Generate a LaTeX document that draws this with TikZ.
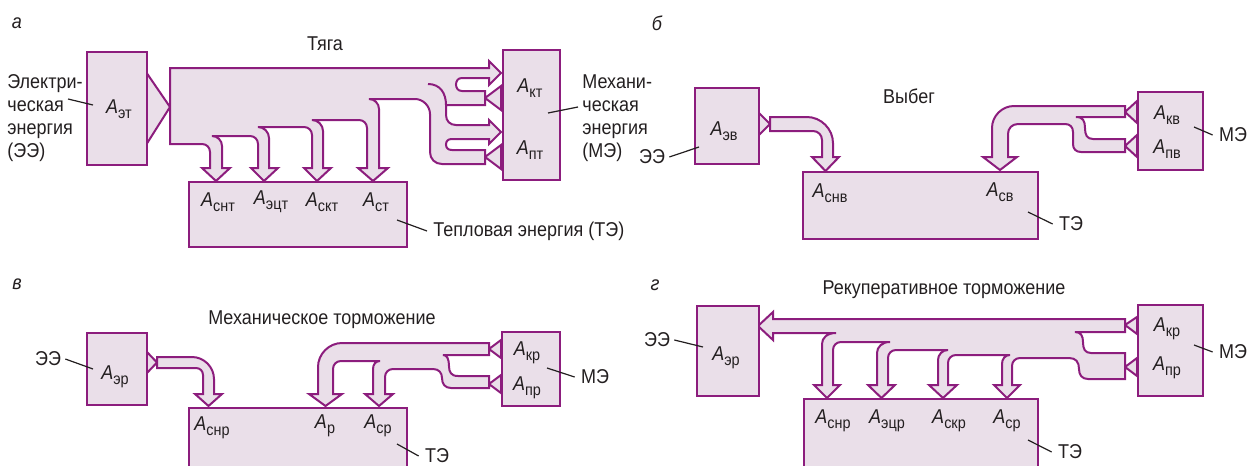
\documentclass[tikz,border=0pt]{standalone}
\usepackage{fontspec}
\setmainfont{Liberation Sans}[FakeStretch=0.9]
\usepackage{tikz}

\definecolor{flowline}{HTML}{8C1D7D}
\definecolor{flowfill}{HTML}{EADFE9}
\definecolor{txt}{HTML}{231F20}

% work A with a lowered subscript
\newcommand{\Asub}[1]{\textit{A}\raisebox{-2.4pt}{\fontsize{8}{8}\selectfont #1}}

\begin{document}
\begin{tikzpicture}[
  x=0.5pt, y=-0.5pt,
  blk/.style={draw=flowline, fill=flowfill, line width=1pt, anchor=north west, inner sep=0pt},
  flow/.style={draw=flowline, fill=flowfill, line width=1pt, line join=miter, miter limit=4},
  inner/.style={draw=flowline, line width=1pt},
  lead/.style={draw=txt, line width=0.6pt},
  lbl/.style={font=\fontsize{10}{11.5}\selectfont, text=txt, inner sep=0pt},
  note/.style={lbl, align=left, anchor=west},
  tag/.style={lbl, font=\fontsize{10}{11.5}\selectfont\itshape},
]
\useasboundingbox (0,0) rectangle (1255,466);
\clip (0,0) rectangle (1255,466);

% ---------------- a: traction ----------------
\node[tag] (la) at (17,23) {а};
\node[lbl] (ta) at (325,44) {Тяга};

\filldraw[flow] (146,72) -- (170,107) -- (146,145) -- cycle;
\filldraw[flow] (170,68) -- (489,68) -- (489,61) -- (501,73) -- (489,85) -- (489,78)
  -- (462,78) .. controls (458,78) and (456,81) .. (456,84.5) .. controls (456,88) and (458,91) .. (462,91)
  -- (485,91) -- (485,98) -- (501,86) -- (501,110) -- (485,98) -- (485,105)
  -- (446,105) -- (446,115) .. controls (446,121) and (450,125) .. (456,125)
  -- (489,125) -- (489,120) -- (501,132) -- (489,144) -- (489,139)
  -- (452,139) .. controls (448,139) and (446,141) .. (446,144.5) .. controls (446,148) and (448,150) .. (452,150)
  -- (485,150) -- (485,157) -- (501,145) -- (501,169) -- (485,157) -- (485,164)
  -- (442,164) .. controls (435,164) and (430,159) .. (430,152)
  -- (430,114) .. controls (430,106) and (423,99) .. (415,99)
  -- (369,99) .. controls (374.5,99) and (379,103.5) .. (379,109)
  -- (379,168) -- (388,168) -- (373,181) -- (358,168) -- (367,168)
  -- (367,128) .. controls (367,123.5) and (363.5,120) .. (359,120)
  -- (312,120) .. controls (318,120) and (323,125) .. (323,131)
  -- (323,168) -- (331,168) -- (317,181) -- (304,168) -- (312,168)
  -- (312,135) .. controls (312,130.5) and (308.5,127) .. (304,127)
  -- (258,127) .. controls (264,127) and (269,132) .. (269,138)
  -- (269,168) -- (278,168) -- (264,181) -- (251,168) -- (258,168)
  -- (258,144) .. controls (258,139.5) and (254.5,136) .. (250,136)
  -- (212,136) .. controls (217.5,136) and (222,140.5) .. (222,146)
  -- (222,168) -- (230,168) -- (216,181) -- (202,168) -- (210,168)
  -- (210,152) .. controls (210,147.5) and (206.5,144) .. (202,144)
  -- (170,144) -- cycle;
\draw[inner] (428,84) .. controls (440,84) and (446,93) .. (446,105);

\node[blk, minimum width=30pt, minimum height=56.5pt] (eA) at (86,51) {};
\node[blk, minimum width=28.5pt, minimum height=65pt] (mA) at (502,49) {};
\node[blk, minimum width=109pt, minimum height=32.5pt] (hA) at (188,181) {};

\node[lbl] (aET) at (119,109) {\Asub{эт}};
\node[lbl] (aKT) at (530,88) {\Asub{кт}};
\node[lbl] (aPT) at (530,150) {\Asub{пт}};
\node[lbl] (aSNT) at (218,202) {\Asub{снт}};
\node[lbl] (aECT) at (271,202) {\Asub{эцт}};
\node[lbl] (aSKT) at (322,202) {\Asub{скт}};
\node[lbl] (aST) at (376,202) {\Asub{ст}};

\node[note] (eeA) at (7,118) {Электри-\\ческая\\энергия\\(ЭЭ)};
\node[note] (meA) at (582,118) {Механи-\\ческая\\энергия\\(МЭ)};
\node[note] (teA) at (433,231) {Тепловая энергия (ТЭ)};
\draw[lead] (68,99) -- (93,105);
\draw[lead] ([xshift=-2pt]meA.west |- 0,107) -- (548,113);
\draw[lead] ([xshift=-3pt]teA.west) -- (397,220);

% ---------------- b: coasting ----------------
\node[tag] (lb) at (657,23) {б};
\node[lbl] (tb) at (909,96) {Выбег};

\filldraw[flow] (758,112) -- (770,124) -- (758,136) -- cycle;
\filldraw[flow] (770,117) -- (807,117) .. controls (821,117) and (833,129) .. (833,143)
  -- (833,157) -- (839,157) -- (825.5,171) -- (812,157) -- (822,157)
  -- (822,140) .. controls (822,135) and (818,131) .. (813,131) -- (770,131) -- cycle;
\filldraw[flow] (1125,106) -- (1014,106) .. controls (1002,106) and (992,116) .. (992,128)
  -- (992,157) -- (983,157) -- (1000,170) -- (1017,157) -- (1008,157)
  -- (1008,134) .. controls (1008,128.5) and (1012,124) .. (1018,124)
  -- (1065,124) .. controls (1070,124) and (1073,127) .. (1073,132)
  -- (1073,144) .. controls (1073,149) and (1076,152) .. (1081,152)
  -- (1125,152) -- (1125,146) -- (1137,157) -- (1137,135) -- (1125,146) -- (1125,139)
  -- (1093,139) .. controls (1087,139) and (1085,135) .. (1085,128) .. controls (1085,121) and (1083,117) .. (1076,117)
  -- (1125,117) -- (1125,112) -- (1137,123) -- (1137,101) -- (1125,112) -- cycle;

\node[blk, minimum width=32pt, minimum height=38pt] (eB) at (694,87) {};
\node[blk, minimum width=32.5pt, minimum height=39pt] (mB) at (1137,91) {};
\node[blk, minimum width=117.5pt, minimum height=33.5pt] (hB) at (802,171) {};

\node[lbl] (aEV) at (724,131) {\Asub{эв}};
\node[lbl] (aKV) at (1167,115) {\Asub{кв}};
\node[lbl] (aPV) at (1167,149) {\Asub{пв}};
\node[lbl] (aSNV) at (830,193) {\Asub{снв}};
\node[lbl] (aSV) at (1000,192) {\Asub{св}};

\node[lbl] (eeB) at (652,157) {ЭЭ};
\node[lbl] (meB) at (1233,135) {МЭ};
\node[lbl] (teB) at (1071,224) {ТЭ};
\draw[lead] ([xshift=2pt]eeB.east) -- (699,147);
\draw[lead] ([xshift=-3pt]meB.west) -- (1194,127);
\draw[lead] ([xshift=-3pt]teB.west) -- (1028,212);

% ---------------- v: mechanical braking ----------------
\node[tag] (lc) at (17,284) {в};
\node[lbl] (tc) at (322,320) {Механическое торможение};

\filldraw[flow] (146,351) -- (157,362.5) -- (146,374) -- cycle;
\filldraw[flow] (157,357) -- (192,357) .. controls (204,357) and (214,367) .. (214,379)
  -- (214,394) -- (222,394) -- (208.5,406) -- (195,394) -- (203,394)
  -- (203,375) .. controls (203,371) and (200,368) .. (196,368) -- (157,368) -- cycle;
\filldraw[flow] (489,343) -- (342,343) .. controls (329,343) and (318,354) .. (318,367)
  -- (318,394) -- (309,394) -- (325.5,406) -- (342,394) -- (333,394)
  -- (333,369) .. controls (333,364.5) and (336.5,361) .. (341,361)
  -- (380,361) .. controls (376,361) and (373,364) .. (373,369)
  -- (373,394) -- (365,394) -- (379,406) -- (393,394) -- (385,394)
  -- (385,377) .. controls (385,372.5) and (388.5,369) .. (393,369)
  -- (433,369) .. controls (439,369) and (442,373) .. (442,378) .. controls (442,384) and (445,388) .. (451,388)
  -- (489,388) -- (489,384) -- (501,393) -- (501,375) -- (489,384) -- (489,376)
  -- (458,376) .. controls (451,376) and (449,372) .. (449,366) .. controls (449,359) and (447,355) .. (443,355)
  -- (489,355) -- (489,349) -- (501,358) -- (501,340) -- (489,349) -- cycle;

\node[blk, minimum width=30pt, minimum height=36pt] (eC) at (86,332) {};
\node[blk, minimum width=29pt, minimum height=37pt] (mC) at (501,331) {};
\node[blk, minimum width=109pt, minimum height=50pt] (hC) at (188,407) {};

\node[lbl] (aERc) at (115,377) {\Asub{эр}};
\node[lbl] (aKRc) at (527,353) {\Asub{кр}};
\node[lbl] (aPRc) at (527,388) {\Asub{пр}};
\node[lbl] (aSNRc) at (212,428) {\Asub{снр}};
\node[lbl] (aRc) at (325,426) {\Asub{р}};
\node[lbl] (aSRc) at (378,426) {\Asub{ср}};

\node[lbl] (eeC) at (48,359) {ЭЭ};
\node[lbl] (meC) at (595,377) {МЭ};
\node[lbl] (teC) at (437,456) {ТЭ};
\draw[lead] ([xshift=2pt]eeC.east) -- (93,369);
\draw[lead] ([xshift=-3pt]meC.west) -- (547,368);
\draw[lead] ([xshift=-3pt]teC.west) -- (397,444);

% ---------------- g: regenerative braking ----------------
\node[tag] (ld) at (655,285) {г};
\node[lbl] (td) at (944,290) {Рекуперативное торможение};

\filldraw[flow] (773,319) -- (1125,319) -- (1125,325) -- (1137,317) -- (1137,334) -- (1125,325) -- (1125,332)
  -- (1075,332) .. controls (1081,332) and (1083,336) .. (1083,342) .. controls (1083,349) and (1085,353) .. (1091,353)
  -- (1125,353) -- (1125,367) -- (1137,358) -- (1137,376) -- (1125,367) -- (1125,379)
  -- (1088,379) .. controls (1082,379) and (1079,375) .. (1079,369) .. controls (1079,362) and (1076,358) .. (1069,358)
  -- (1020,358) .. controls (1015.5,358) and (1012,361.5) .. (1012,366)
  -- (1012,385) -- (1020,385) -- (1007,398) -- (994,385) -- (1002,385)
  -- (1002,364) .. controls (1002,359) and (1005,355) .. (1010,355)
  -- (956,355) .. controls (951.5,355) and (948,358.5) .. (948,363)
  -- (948,385) -- (957,385) -- (943,398) -- (929,385) -- (938,385)
  -- (938,360) .. controls (938,354.5) and (942.5,350) .. (948,350)
  -- (896,350) .. controls (891.5,350) and (888,353.5) .. (888,358)
  -- (888,385) -- (895,385) -- (881.5,398) -- (868,385) -- (877,385)
  -- (877,353) .. controls (877,347) and (882,342) .. (890,342)
  -- (841,342) .. controls (836.5,342) and (833,345.5) .. (833,350)
  -- (833,385) -- (840,385) -- (827,398) -- (814,385) -- (822,385)
  -- (822,344) .. controls (822,338) and (827,333) .. (836,333)
  -- (773,333) -- (773,340) -- (758,326) -- (773,312) -- cycle;

\node[blk, minimum width=31pt, minimum height=45pt] (eD) at (696,305) {};
\node[blk, minimum width=32.5pt, minimum height=45.5pt] (mD) at (1137,304) {};
\node[blk, minimum width=117pt, minimum height=50pt] (hD) at (803,398) {};

\node[lbl] (aERd) at (726,358) {\Asub{эр}};
\node[lbl] (aKRd) at (1167,329) {\Asub{кр}};
\node[lbl] (aPRd) at (1167,368) {\Asub{пр}};
\node[lbl] (aSNRd) at (833,421) {\Asub{снр}};
\node[lbl] (aECRd) at (887,421) {\Asub{эцр}};
\node[lbl] (aSKRd) at (949,421) {\Asub{скр}};
\node[lbl] (aSRd) at (1007,421) {\Asub{ср}};

\node[lbl] (eeD) at (657,340) {ЭЭ};
\node[lbl] (meD) at (1233,352) {МЭ};
\node[lbl] (teD) at (1070,452) {ТЭ};
\draw[lead] ([xshift=2pt]eeD.east) -- (703,347);
\draw[lead] ([xshift=-3pt]meD.west) -- (1194,345);
\draw[lead] ([xshift=-3pt]teD.west) -- (1028,440);

\end{tikzpicture}
\end{document}
